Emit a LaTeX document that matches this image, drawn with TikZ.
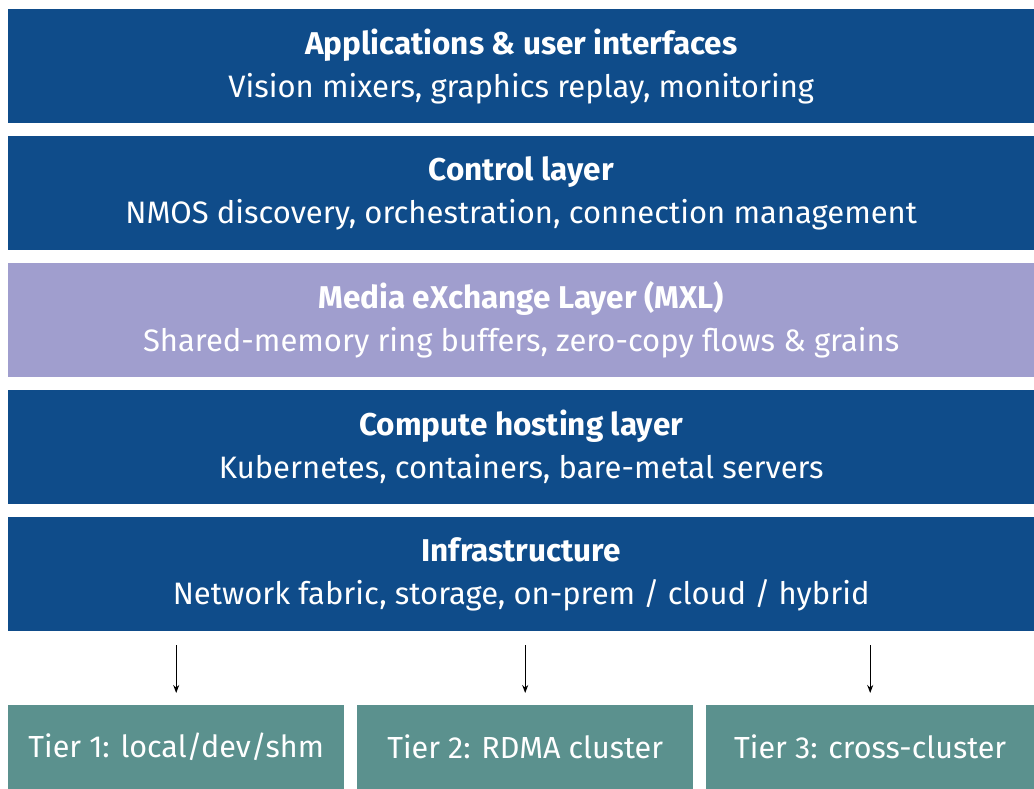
\documentclass[tikz,border=0pt]{standalone}
\usepackage{fontspec}
\setmainfont{Fira Sans}
\usetikzlibrary{arrows.meta}
\definecolor{layerblue}{HTML}{0F4C8A}
\definecolor{mxlpurple}{HTML}{A09ECE}
\definecolor{tierteal}{HTML}{5B918E}
\tikzset{
  layer/.style={fill=layerblue, draw=none, minimum width=1026pt, minimum height=114pt, inner sep=0pt, anchor=north west, text=white, align=center, font=\fontsize{31}{43}\selectfont},
  tier/.style={fill=tierteal, draw=none, minimum height=84pt, inner sep=0pt, anchor=north west, text=white, font=\fontsize{30.5}{36}\selectfont},
  tierarrow/.style={-{Stealth[length=8pt,width=6pt]}, line width=1.1pt, black},
}
\newcommand{\ttl}[1]{{\fontsize{31.5}{43}\selectfont\bfseries #1}}
\begin{document}
\begin{tikzpicture}[x=1pt,y=-1pt]
\useasboundingbox (0,0) rectangle (1034,789);
\node[layer] (apps) at (8,9) {\ttl{Applications \& user interfaces}\\Vision mixers, graphics replay, monitoring};
\node[layer] (ctrl) at (8,136) {\ttl{Control layer}\\NMOS discovery, orchestration, connection management};
\node[layer, fill=mxlpurple] (mxl) at (8,263) {\ttl{Media eXchange Layer (MXL)}\\Shared-memory ring buffers, zero-copy flows \& grains};
\node[layer] (comp) at (8,390) {\ttl{Compute hosting layer}\\Kubernetes, containers, bare-metal servers};
\node[layer] (infra) at (8,517) {\ttl{Infrastructure}\\Network fabric, storage, on-prem / cloud / hybrid};
\node[tier, minimum width=336pt] (t1) at (8,705) {Tier 1: local/dev/shm};
\node[tier, minimum width=336pt] (t2) at (357,705) {Tier 2: RDMA cluster};
\node[tier, minimum width=328pt] (t3) at (706,705) {Tier 3: cross-cluster};
\draw[tierarrow, shorten <=14pt, shorten >=12pt] (infra.south -| t1.north) -- (t1.north);
\draw[tierarrow, shorten <=14pt, shorten >=12pt] (infra.south -| t2.north) -- (t2.north);
\draw[tierarrow, shorten <=14pt, shorten >=12pt] (infra.south -| t3.north) -- (t3.north);
\end{tikzpicture}
\end{document}
